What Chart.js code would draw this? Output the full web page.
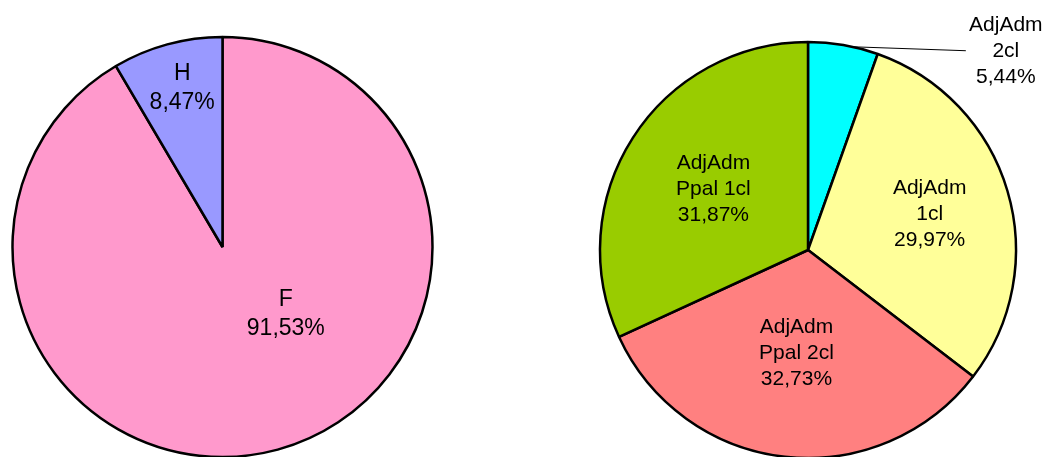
<!DOCTYPE html>
<html>
<head>
<meta charset="utf-8">
<script src="https://cdn.jsdelivr.net/npm/chart.js@4.4.1/dist/chart.umd.min.js"></script>
<style>
    html, body { margin: 0; padding: 0; background: #fff; overflow: hidden; }
    body { width: 1045px; height: 457px; position: relative; }
    .pie-box { position: absolute; top: 0; height: 457px; }
    #boxSexo { left: 0; width: 445px; }
    #boxCuerpo { left: 568px; width: 477px; }
</style>
</head>
<body>
<div class="pie-box" id="boxSexo"><canvas id="sexoChart"></canvas></div>
<div class="pie-box" id="boxCuerpo"><canvas id="cuerpoChart"></canvas></div>
<script>
// Datos - distribución por sexo
const sexoLabels = [['F'], ['H']];
const sexoValues = [91.53, 8.47];
const sexoColors = ['#FF99CC', '#9999FF'];

// Datos - distribución por cuerpo/clase
const cuerpoLabels = [['AdjAdm', '2cl'], ['AdjAdm', '1cl'], ['AdjAdm', 'Ppal 2cl'], ['AdjAdm', 'Ppal 1cl']];
const cuerpoValues = [5.44, 29.97, 32.73, 31.87];
const cuerpoColors = ['#00FFFF', '#FFFF99', '#FF8080', '#99CC00'];

const fmtPct = v => v.toFixed(2).replace('.', ',') + '%';

// etiquetas dentro / fuera de cada sector (fracción del radio, giro en grados)
const etiquetasPlugin = {
    id: 'etiquetas',
    afterDatasetsDraw(chart, args, opts) {
        const ctx = chart.ctx;
        const meta = chart.getDatasetMeta(0);
        const labels = chart.data.labels;
        const values = chart.data.datasets[0].data;
        ctx.save();
        ctx.font = opts.font;
        ctx.fillStyle = '#000';
        ctx.textAlign = 'center';
        ctx.textBaseline = 'middle';
        meta.data.forEach((arc, i) => {
            const p = arc.getProps(['x', 'y', 'startAngle', 'endAngle', 'outerRadius'], true);
            const mid = (p.startAngle + p.endAngle) / 2;
            const a = mid + (opts.shift[i] || 0) * Math.PI / 180;
            const lx = p.x + Math.cos(a) * p.outerRadius * opts.frac[i];
            const ly = p.y + Math.sin(a) * p.outerRadius * opts.frac[i];
            const lines = labels[i].concat([fmtPct(values[i])]);
            const y0 = ly - (lines.length - 1) * opts.lineHeight / 2;
            lines.forEach((t, k) => ctx.fillText(t, lx, y0 + k * opts.lineHeight));
            if (opts.frac[i] > 1) {
                const la = mid + 2.5 * Math.PI / 180;
                ctx.beginPath();
                ctx.strokeStyle = '#000';
                ctx.lineWidth = 1;
                ctx.moveTo(p.x + Math.cos(la) * p.outerRadius, p.y + Math.sin(la) * p.outerRadius);
                ctx.lineTo(lx - 40, ly);
                ctx.stroke();
            }
        });
        ctx.restore();
    }
};

function crearPie(id, labels, values, colors, radius, padding, etiquetas) {
    const ctx = document.getElementById(id).getContext('2d');
    return new Chart(ctx, {
        type: 'pie',
        data: {
            labels: labels,
            datasets: [{
                data: values,
                backgroundColor: colors,
                borderColor: '#000',
                borderWidth: 2.5,
                radius: radius
            }]
        },
        options: {
            responsive: true,
            maintainAspectRatio: false,
            animation: false,
            layout: { padding: padding },
            plugins: {
                legend: { display: false },
                tooltip: { enabled: false },
                etiquetas: etiquetas
            }
        },
        plugins: [etiquetasPlugin]
    });
}

crearPie('sexoChart', sexoLabels, sexoValues, sexoColors, 210,
    { top: 37, bottom: 0, left: 0, right: 0 },
    { font: '23px "Liberation Sans", Arial, sans-serif', lineHeight: 29, frac: [0.44, 0.78], shift: [-28, 1] });

crearPie('cuerpoChart', cuerpoLabels, cuerpoValues, cuerpoColors, 208,
    { top: 43, bottom: 0, left: 3, right: 0 },
    { font: '21px "Liberation Sans", Arial, sans-serif', lineHeight: 26, frac: [1.35, 0.61, 0.5, 0.54], shift: [35, 0, 0, 0] });
</script>
</body>
</html>
